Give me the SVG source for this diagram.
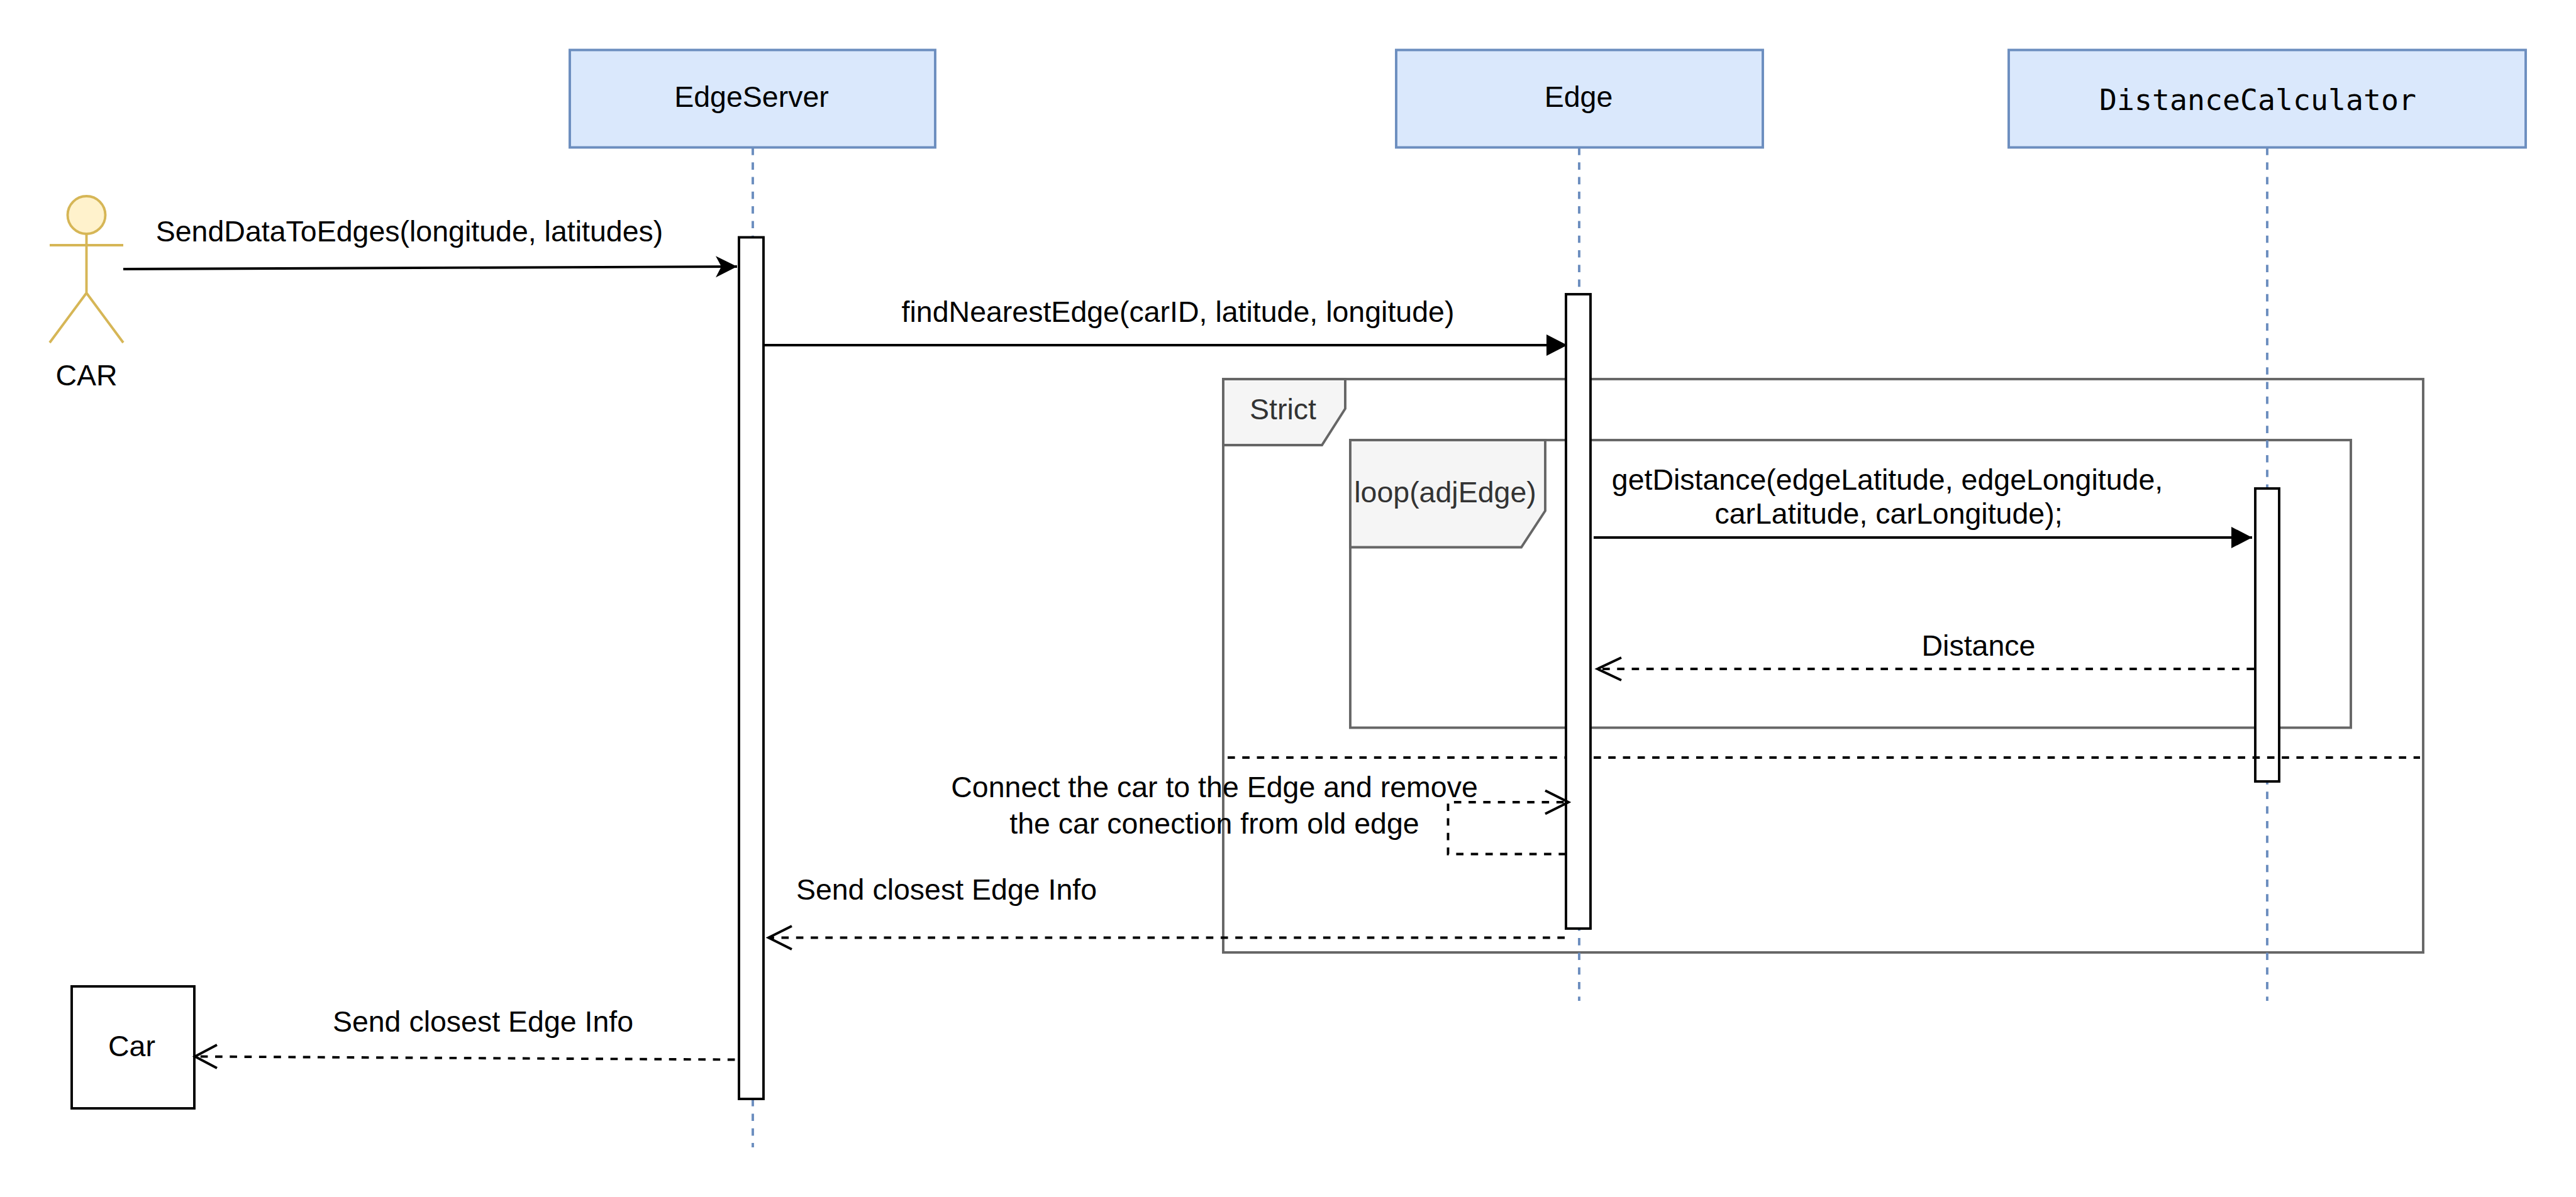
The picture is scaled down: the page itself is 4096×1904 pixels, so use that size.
<svg xmlns="http://www.w3.org/2000/svg" width="4096" height="1904" viewBox="0 0 4096 1904">
<style>
text{font-family:"Liberation Sans",Arial,sans-serif;font-size:46.5px;fill:#000;text-anchor:middle}
.mono{font-family:"DejaVu Sans Mono","Liberation Mono",monospace}
.head{fill:#dae8fc;stroke:#6c8ebf;stroke-width:3.9}
.life{fill:none;stroke:#6c8ebf;stroke-width:3.9;stroke-dasharray:11.64 11.64}
.act{fill:#fff;stroke:#000;stroke-width:3.9}
.frame{fill:none;stroke:#666;stroke-width:3.9}
.tab{fill:#f5f5f5;stroke:#666;stroke-width:3.9}
.tab-t{fill:#333}
.act-line{fill:none;stroke:#d6b656;stroke-width:3.9}
.msg{fill:none;stroke:#000;stroke-width:3.9}
.dash{fill:none;stroke:#000;stroke-width:3.9;stroke-dasharray:11.64 11.64}
.open{fill:none;stroke:#000;stroke-width:3.9}
</style>
<defs>
<marker id="block" markerUnits="userSpaceOnUse" markerWidth="36" markerHeight="36" refX="33" refY="17" orient="auto"><path d="M0 0L33 17L0 34Z" fill="#000"/></marker>
<marker id="classic" markerUnits="userSpaceOnUse" markerWidth="38" markerHeight="38" refX="34" refY="18" orient="auto"><path d="M0 1L34 18L0 35L9 18Z" fill="#000"/></marker>
</defs>
<rect width="4096" height="1904" fill="#fff"/>
<g id="node-strict"><rect class="frame" x="1945" y="603" width="1908" height="912"/><path class="tab" d="M1945 603H2139V650L2102 708H1945Z"/><text class="tab-t" x="2040" y="667">Strict</text></g>
<g id="node-loop"><rect class="frame" x="2147" y="700" width="1591" height="457.5"/><path class="tab" d="M2147 700H2457V812.5L2419 870.5H2147Z"/><text class="tab-t" x="2298" y="799">loop(adjEdge)</text></g>
<g id="node-edgeserver"><path class="life" d="M1197 235V1825"/><rect class="head" x="906" y="79.500" width="581" height="155"/><text x="1195" y="170">EdgeServer</text></g>
<g id="node-edge"><path class="life" d="M2511 235V1592"/><rect class="head" x="2220" y="79.500" width="583" height="155"/><text x="2510" y="170">Edge</text></g>
<g id="node-distancecalculator"><path class="life" d="M3605 235V1592"/><rect class="head" x="3194" y="79.500" width="822" height="155"/><text class="mono" x="3590" y="174.500">DistanceCalculator</text></g>
<g id="node-actor-car"><ellipse cx="137.500" cy="342" rx="30" ry="30" fill="#fff2cc" stroke="#d6b656" stroke-width="3.9"/><path class="act-line" d="M137.500 372V466M79 390H196M137.500 466L79 545M137.500 466L196 545"/><text x="137.500" y="613">CAR</text></g>
<g id="node-car"><rect x="114" y="1569" width="195" height="194" fill="#fff" stroke="#000" stroke-width="3.9"/><text x="209.500" y="1680">Car</text></g>
<g id="node-activation-edgeserver"><rect class="act" x="1175" y="377.500" width="39" height="1370.500"/></g>
<g id="node-activation-distancecalculator"><rect class="act" x="3586" y="777" width="38" height="466"/></g>
<path id="strict-divider" class="dash" d="M1952 1205H3848"/>
<g id="node-activation-edge"><rect class="act" x="2490" y="468" width="39" height="1009"/></g>
<g id="connectors">
<path class="msg" d="M196 428L1172 424" marker-end="url(#classic)"/>
<path class="msg" d="M1214 549H2492" marker-end="url(#block)"/>
<path class="msg" d="M2534 855H3581" marker-end="url(#block)"/>
<path class="dash" d="M3584 1064H2540"/><path class="open" d="M2578 1046L2540 1064L2578 1082"/>
<path class="dash" d="M2490 1358.500H2302.500V1276H2494"/><path class="open" d="M2457 1257.500L2494 1276L2457 1294.500"/>
<path class="dash" d="M2488 1491.500H1222"/><path class="open" d="M1259 1473L1222 1491.500L1259 1510"/>
<path class="dash" d="M1168.500 1685.500L310 1680.500"/><path class="open" d="M345 1662L310 1680.500L345 1699"/>
</g>
<g id="labels">
<text x="651" y="383.500">SendDataToEdges(longitude, latitudes)</text>
<text x="1873" y="512">findNearestEdge(carID, latitude, longitude)</text>
<text x="3001" y="779">getDistance(edgeLatitude, edgeLongitude,</text>
<text x="3003" y="832.500">carLatitude, carLongitude);</text>
<text x="3146" y="1042.500">Distance</text>
<text x="1931" y="1267.500">Connect the car to the Edge and remove</text>
<text x="1931" y="1326">the car conection from old edge</text>
<text x="1505" y="1431">Send closest Edge Info</text>
<text x="768" y="1641">Send closest Edge Info</text>
</g>
</svg>
